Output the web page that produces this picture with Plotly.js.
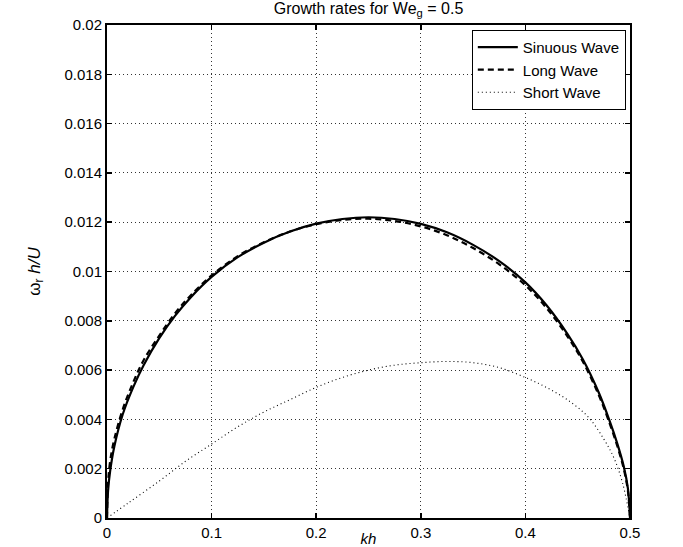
<!DOCTYPE html>
<html>
<head>
<meta charset="utf-8">
<script src="https://cdn.plot.ly/plotly-3.0.1.min.js"></script>
<style>html,body{margin:0;padding:0;background:#fff;}#chart{width:683px;height:547px;}</style>
</head>
<body>
<div id="chart"></div>
<script>
var khSinuous = [0, 0.001, 0.003, 0.007, 0.015, 0.025, 0.035, 0.05, 0.065, 0.08, 0.1, 0.125, 0.15, 0.175, 0.2, 0.225, 0.25, 0.275, 0.3, 0.325, 0.35, 0.375, 0.4, 0.42, 0.44, 0.455, 0.47, 0.48, 0.488, 0.494, 0.498, 0.5];
var sinuous = [0, 0.0011, 0.0019, 0.0029, 0.0042, 0.0053, 0.0062, 0.0073, 0.0082, 0.00895, 0.00978, 0.01058, 0.01117, 0.01162, 0.01194, 0.01213, 0.0122, 0.01213, 0.01193, 0.01159, 0.01108, 0.01042, 0.00956, 0.00864, 0.00748, 0.00643, 0.0051, 0.0040, 0.0030, 0.0021, 0.0012, 0];
var khLong = [0, 0.001, 0.003, 0.007, 0.015, 0.025, 0.035, 0.05, 0.065, 0.08, 0.1, 0.125, 0.15, 0.175, 0.2, 0.225, 0.25, 0.275, 0.3, 0.325, 0.35, 0.375, 0.4, 0.42, 0.44, 0.455, 0.47, 0.48, 0.488, 0.494, 0.498, 0.5];
var longWave = [0, 0.0014, 0.0023, 0.0032, 0.0044, 0.0055, 0.0064, 0.0074, 0.0083, 0.00903, 0.00984, 0.01062, 0.01119, 0.01162, 0.01192, 0.01209, 0.01214, 0.01205, 0.01183, 0.01147, 0.01095, 0.01029, 0.00944, 0.00853, 0.00738, 0.00634, 0.0050, 0.0039, 0.0029, 0.0020, 0.0011, 0];
var khShort = [0, 0.02, 0.05, 0.075, 0.1, 0.125, 0.15, 0.175, 0.2, 0.225, 0.25, 0.275, 0.3, 0.325, 0.35, 0.375, 0.4, 0.42, 0.44, 0.46, 0.475, 0.485, 0.493, 0.5];
var shortWave = [0, 0.0006, 0.0015, 0.0023, 0.0030, 0.0037, 0.0043, 0.0048, 0.0053, 0.0057, 0.0060, 0.0062, 0.0063, 0.00635, 0.0063, 0.0061, 0.0057, 0.0053, 0.0048, 0.0041, 0.0032, 0.0024, 0.0014, 0];
var seriesNames = ["Sinuous Wave", "Long Wave", "Short Wave"];
var xTickVals = [0, 0.1, 0.2, 0.3, 0.4, 0.5];
var xTickText = ["0", "0.1", "0.2", "0.3", "0.4", "0.5"];
var yTickVals = [0, 0.002, 0.004, 0.006, 0.008, 0.01, 0.012, 0.014, 0.016, 0.018, 0.02];
var yTickText = ["0", "0.002", "0.004", "0.006", "0.008", "0.01", "0.012", "0.014", "0.016", "0.018", "0.02"];

var traces = [
  {x: khSinuous, y: sinuous, name: seriesNames[0], mode: "lines", line: {color: "#000", width: 2.2, shape: "spline", smoothing: 1}},
  {x: khLong, y: longWave, name: seriesNames[1], mode: "lines", line: {color: "#000", width: 2.2, dash: "6px,4px", shape: "spline", smoothing: 1}},
  {x: khShort, y: shortWave, name: seriesNames[2], mode: "lines", line: {color: "#000", width: 1.1, dash: "1px,3px", shape: "spline", smoothing: 1}}
];

var fontFam = "Liberation Sans, Arial, sans-serif";
var axisCommon = {
  showline: true, linecolor: "#000", linewidth: 2, mirror: "ticks",
  ticks: "inside", ticklen: 5, tickcolor: "#000", tickwidth: 1.5,
  showgrid: true, gridcolor: "#333", griddash: "1px,3px", gridwidth: 1,
  zeroline: false, tickfont: {family: fontFam, size: 15, color: "#000"}
};

var layout = {
  width: 683, height: 547,
  margin: {l: 107, r: 53, t: 25, b: 29},
  paper_bgcolor: "#fff", plot_bgcolor: "#fff",
  font: {family: fontFam, color: "#000"},
  title: {text: "Growth rates for We<sub>g</sub> = 0.5", xref: "paper", x: 0.5, xanchor: "center",
    yref: "container", y: 0.995, yanchor: "top", font: {size: 16, color: "#000"}},
  xaxis: Object.assign({}, axisCommon, {range: [0, 0.5], tickvals: xTickVals, ticktext: xTickText,
    title: {text: "<i>kh</i>", font: {size: 15}}}),
  yaxis: Object.assign({}, axisCommon, {range: [0, 0.02], tickvals: yTickVals, ticktext: yTickText,
    automargin: true,
    title: {text: "ω<sub>r</sub> <i>h/U</i>", font: {size: 17}, standoff: 20}}),
  legend: {x: 0.992, xanchor: "right", y: 0.99, yanchor: "top", bgcolor: "#fff", bordercolor: "#000", borderwidth: 1,
    font: {size: 15, color: "#000"}, tracegroupgap: 0, itemwidth: 40},
  showlegend: true
};

Plotly.newPlot("chart", traces, layout, {displayModeBar: false, staticPlot: true});
</script>
</body>
</html>
